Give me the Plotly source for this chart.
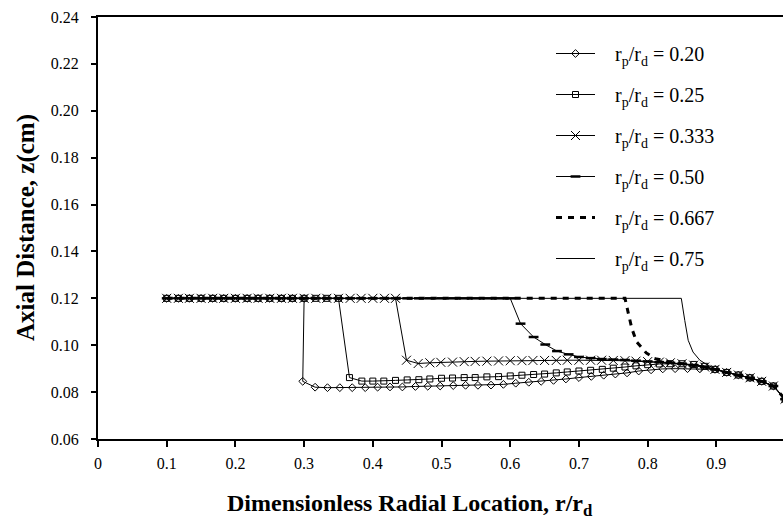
import plotly.graph_objects as go

# ---------------- data ----------------
labels = ["0.20", "0.25", "0.333", "0.50", "0.667", "0.75"]

r_020 = [0.100, 0.117, 0.133, 0.150, 0.167, 0.183, 0.200, 0.217, 0.233, 0.250, 0.267, 0.283, 0.300,
         0.298, 0.316, 0.334, 0.352, 0.370, 0.389, 0.407, 0.425, 0.443, 0.462, 0.480, 0.498, 0.517,
         0.535, 0.553, 0.572, 0.590, 0.608, 0.627, 0.645, 0.663, 0.681, 0.700, 0.718, 0.736, 0.753,
         0.770, 0.787, 0.805, 0.822, 0.840, 0.858, 0.876, 0.898, 0.915, 0.932, 0.949, 0.966, 0.983, 1.000]
z_020 = [0.120, 0.120, 0.120, 0.120, 0.120, 0.120, 0.120, 0.120, 0.120, 0.120, 0.120, 0.120, 0.120,
         0.0846, 0.0821, 0.0819, 0.0819, 0.0819, 0.0819, 0.0821, 0.0822, 0.0822, 0.0824, 0.0825, 0.0826, 0.0828,
         0.0829, 0.0829, 0.0830, 0.0833, 0.0838, 0.0842, 0.0846, 0.0850, 0.0856, 0.0862, 0.0867, 0.0872, 0.0877,
         0.0882, 0.0890, 0.0895, 0.0899, 0.0900, 0.0900, 0.0899, 0.0897, 0.0884, 0.0873, 0.0861, 0.0846, 0.0826, 0.0770]

r_025 = [0.100, 0.117, 0.133, 0.150, 0.167, 0.183, 0.200, 0.217, 0.233, 0.250, 0.267, 0.283, 0.300, 0.317,
         0.333, 0.350,
         0.366, 0.384, 0.400, 0.416, 0.433, 0.450, 0.467, 0.483, 0.500, 0.516, 0.533, 0.549, 0.566, 0.583,
         0.600, 0.617, 0.634, 0.650, 0.667, 0.683, 0.700, 0.717, 0.734, 0.750, 0.767, 0.783, 0.800, 0.817,
         0.833, 0.850, 0.867, 0.883, 0.898, 0.915, 0.932, 0.949, 0.966, 0.983, 1.000]
z_025 = [0.120, 0.120, 0.120, 0.120, 0.120, 0.120, 0.120, 0.120, 0.120, 0.120, 0.120, 0.120, 0.120, 0.120,
         0.120, 0.120,
         0.0862, 0.0847, 0.0847, 0.0847, 0.0850, 0.0852, 0.0853, 0.0856, 0.0859, 0.0860, 0.0862, 0.0862, 0.0865, 0.0866,
         0.0869, 0.0872, 0.0875, 0.0877, 0.0882, 0.0886, 0.0890, 0.0893, 0.0897, 0.0902, 0.0907, 0.0912, 0.0917, 0.0920,
         0.0921, 0.0921, 0.0918, 0.0910, 0.0897, 0.0884, 0.0873, 0.0861, 0.0846, 0.0826, 0.0770]

r_0333 = [0.100, 0.117, 0.133, 0.150, 0.167, 0.183, 0.200, 0.217, 0.233, 0.250, 0.267, 0.283, 0.300, 0.317,
          0.333, 0.350, 0.367, 0.383, 0.400, 0.417, 0.433,
          0.449, 0.466, 0.483, 0.499, 0.516, 0.533, 0.549, 0.566, 0.583, 0.600, 0.617, 0.633, 0.650, 0.667,
          0.683, 0.700, 0.717, 0.733, 0.750, 0.767, 0.783, 0.800, 0.817, 0.833, 0.850, 0.867, 0.883, 0.898,
          0.915, 0.932, 0.949, 0.966, 0.983, 1.000]
z_0333 = [0.120, 0.120, 0.120, 0.120, 0.120, 0.120, 0.120, 0.120, 0.120, 0.120, 0.120, 0.120, 0.120, 0.120,
          0.120, 0.120, 0.120, 0.120, 0.120, 0.120, 0.120,
          0.0936, 0.0922, 0.0925, 0.0927, 0.0928, 0.0930, 0.0931, 0.0932, 0.0933, 0.0934, 0.0934, 0.0935, 0.0935, 0.0935,
          0.0936, 0.0936, 0.0936, 0.0936, 0.0935, 0.0934, 0.0932, 0.0930, 0.0928, 0.0925, 0.0921, 0.0915, 0.0907, 0.0897,
          0.0884, 0.0873, 0.0861, 0.0846, 0.0826, 0.0770]

r_050 = [0.100, 0.117, 0.133, 0.150, 0.167, 0.183, 0.200, 0.217, 0.233, 0.250, 0.267, 0.283, 0.300, 0.317,
         0.333, 0.350, 0.367, 0.383, 0.400, 0.417, 0.433, 0.450, 0.467, 0.483, 0.500, 0.517, 0.533, 0.550,
         0.567, 0.583, 0.600,
         0.615, 0.634, 0.651, 0.668, 0.685, 0.700, 0.717, 0.733, 0.750, 0.767, 0.783, 0.800, 0.817, 0.833,
         0.850, 0.867, 0.883, 0.898, 0.915, 0.932, 0.949, 0.966, 0.983, 1.000]
z_050 = [0.120, 0.120, 0.120, 0.120, 0.120, 0.120, 0.120, 0.120, 0.120, 0.120, 0.120, 0.120, 0.120, 0.120,
         0.120, 0.120, 0.120, 0.120, 0.120, 0.120, 0.120, 0.120, 0.120, 0.120, 0.120, 0.120, 0.120, 0.120,
         0.120, 0.120, 0.120,
         0.1092, 0.1035, 0.1003, 0.0975, 0.0961, 0.0950, 0.0945, 0.0941, 0.0939, 0.0937, 0.0934, 0.0931, 0.0928, 0.0925,
         0.0921, 0.0915, 0.0907, 0.0897, 0.0884, 0.0873, 0.0861, 0.0846, 0.0826, 0.0770]

r_0667 = [0.100, 0.767, 0.772, 0.777, 0.784, 0.798, 0.811, 0.830, 0.850, 0.867, 0.883, 0.898,
          0.915, 0.932, 0.949, 0.966, 0.983, 1.000]
z_0667 = [0.120, 0.120, 0.1135, 0.1071, 0.1014, 0.0967, 0.0943, 0.0930, 0.0921, 0.0915, 0.0907, 0.0897,
          0.0884, 0.0873, 0.0861, 0.0846, 0.0826, 0.0770]

r_075 = [0.100, 0.849, 0.854, 0.859, 0.866, 0.876, 0.888, 0.898, 0.915, 0.932, 0.949, 0.966, 0.983, 1.000]
z_075 = [0.120, 0.120, 0.1106, 0.1021, 0.0971, 0.0936, 0.0914, 0.0900, 0.0884, 0.0873, 0.0861, 0.0846, 0.0826, 0.0770]

x_ticks = [0, 0.1, 0.2, 0.3, 0.4, 0.5, 0.6, 0.7, 0.8, 0.9, 1.0]
y_ticks = [0.06, 0.08, 0.10, 0.12, 0.14, 0.16, 0.18, 0.20, 0.22, 0.24]

# ---------------- figure ----------------
FONT = "Liberation Serif, Times New Roman, serif"
W, H = 783, 520
ML, MR, MT, MB = 98, 0, 17, 81

series = [
    (r_020, z_020, dict(mode="lines+markers", line=dict(color="black", width=1),
                        marker=dict(symbol="diamond-open", size=6, color="black", line=dict(width=1)))),
    (r_025, z_025, dict(mode="lines+markers", line=dict(color="black", width=1),
                        marker=dict(symbol="square-open", size=6, color="black", line=dict(width=1)))),
    (r_0333, z_0333, dict(mode="lines+markers", line=dict(color="black", width=1),
                          marker=dict(symbol="x-thin-open", size=9, color="black", line=dict(width=1)))),
    (r_050, z_050, dict(mode="lines+markers", line=dict(color="black", width=1),
                        marker=dict(symbol="line-ew-open", size=7, color="black", line=dict(width=2.5)))),
    (r_0667, z_0667, dict(mode="lines", line=dict(color="black", width=3, dash="6px,6px"))),
    (r_075, z_075, dict(mode="lines", line=dict(color="black", width=1))),
]

PAD = "&nbsp;" * 3
fig = go.Figure()
for lab, (xs, ys, style) in zip(labels, series):
    fig.add_trace(go.Scatter(x=xs, y=ys, name=f"{PAD}r<sub>p</sub>/r<sub>d</sub> = {lab}",
                             legendgroup=lab, **style))

pw = W - ML - MR
ph = H - MT - MB

fig.update_layout(
    width=W, height=H,
    margin=dict(l=ML, r=MR, t=MT, b=MB),
    paper_bgcolor="white", plot_bgcolor="white",
    font=dict(family=FONT, size=16, color="black"),
    legend=dict(x=(551 - ML) / pw, y=(H - MB - 34) / ph, xanchor="left", yanchor="top",
                font=dict(family=FONT, size=20, color="black"),
                bgcolor="rgba(0,0,0,0)", tracegroupgap=12, itemwidth=39),
    annotations=[
        dict(text="<b>Axial Distance, z(cm)</b>", textangle=-90, showarrow=False,
             xref="paper", yref="paper", x=(26 - ML) / pw, y=0.5, xanchor="center", yanchor="middle",
             font=dict(family=FONT, size=25, color="black")),
        dict(text="<b>Dimensionless Radial Location, r/r<sub>d</sub></b>", showarrow=False,
             xref="paper", yref="paper", x=(410 - ML) / pw, y=(H - MB - 505) / ph,
             xanchor="center", yanchor="middle",
             font=dict(family=FONT, size=24, color="black")),
    ],
)
fig.update_xaxes(range=[0, 0.997], tickvals=x_ticks, ticktext=[("%g" % v) for v in x_ticks],
                 showgrid=False, zeroline=False, showline=True, linecolor="black", linewidth=2,
                 mirror=True, ticks="outside", ticklen=6, tickwidth=1.5, tickcolor="black",
                 ticklabelstandoff=3, tickfont=dict(family=FONT, size=16, color="black"))
fig.update_yaxes(range=[0.06, 0.24], tickvals=y_ticks, ticktext=["%.2f" % v for v in y_ticks],
                 showgrid=False, zeroline=False, showline=True, linecolor="black", linewidth=2,
                 ticks="outside", ticklen=5, tickwidth=1.5, tickcolor="black",
                 ticklabelstandoff=9, tickfont=dict(family=FONT, size=16, color="black"))

fig.write_html("out.html", config={"displayModeBar": False},
               post_script="document.body.style.margin='0';document.body.style.overflow='hidden';")
